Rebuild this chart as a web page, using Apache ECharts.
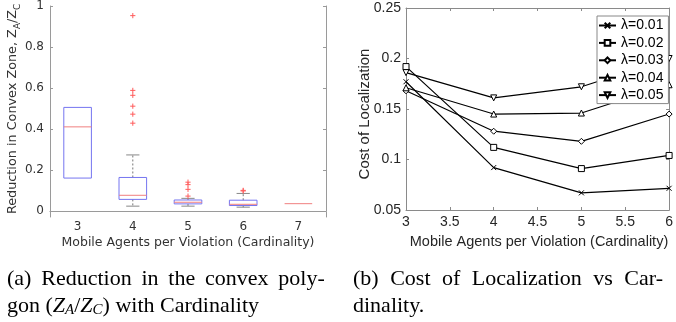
<!DOCTYPE html>
<html>
<head>
<meta charset="utf-8">
<script src="https://cdn.jsdelivr.net/npm/echarts@6/dist/echarts.min.js"></script>
<style>
  html, body { margin: 0; padding: 0; background: #fff; }
  #chart { width: 676px; height: 322px; }
</style>
</head>
<body>
<div id="chart"></div>
<script>
// (a) boxplot: reduction in convex zone per cardinality
const cardinality = ['3', '4', '5', '6', '7']
const boxLow = [0.16, 0.023, 0.023, 0.018, 0.035]
const boxQ1 = [0.16, 0.056, 0.034, 0.026, 0.035]
const boxMedian = [0.41, 0.076, 0.042, 0.032, 0.035]
const boxQ3 = [0.505, 0.163, 0.053, 0.052, 0.035]
const boxHigh = [0.505, 0.273, 0.061, 0.085, 0.035]
const outlierCategory = [1, 1, 1, 1, 1, 1, 2, 2, 2, 2, 3, 3]
const outlierValue = [0.953, 0.588, 0.564, 0.511, 0.472, 0.428, 0.14, 0.128, 0.105, 0.072, 0.1, 0.097]
const reductionTicks = [0, 0.2, 0.4, 0.6, 0.8, 1]

// (b) cost of localization vs cardinality
const agents = [3, 4, 5, 6]
const lambdaNames = ['λ=0.01', 'λ=0.02', 'λ=0.03', 'λ=0.04', 'λ=0.05']
const cost001 = [0.177, 0.092, 0.067, 0.0715]
const cost002 = [0.192, 0.112, 0.091, 0.104]
const cost003 = [0.168, 0.128, 0.118, 0.145]
const cost004 = [0.171, 0.145, 0.146, 0.174]
const cost005 = [0.186, 0.161, 0.172, 0.200]
const costSeries = [cost001, cost002, cost003, cost004, cost005]
const lambdaSymbols = [
  'path://M0,0L10,10M10,0L0,10',
  'rect',
  'diamond',
  'triangle',
  'path://M0,0L10,0L5,9Z'
]

const chart = echarts.init(document.getElementById('chart'))

const leftFont = 'DejaVu Sans'
const rightFont = 'Liberation Sans'
const leftAxisColor = '#9a9a9a'
const rightAxisColor = '#8a8a8a'

const boxData = cardinality.map((c, i) => [i, boxLow[i], boxQ1[i], boxMedian[i], boxQ3[i], boxHigh[i]])
const outlierData = outlierValue.map((v, i) => [outlierCategory[i], v])

function renderBox(params, api) {
  const i = api.value(0)
  const x = api.coord([i, 0])[0]
  const band = api.size([1, 0])[0]
  const hw = band * 0.25
  const cw = band * 0.12
  const yLo = api.coord([i, api.value(1)])[1]
  const yQ1 = api.coord([i, api.value(2)])[1]
  const yMed = api.coord([i, api.value(3)])[1]
  const yQ3 = api.coord([i, api.value(4)])[1]
  const yHi = api.coord([i, api.value(5)])[1]
  const children = []
  if (yHi < yQ3 - 0.5) {
    children.push({ type: 'line', shape: { x1: x, y1: yQ3, x2: x, y2: yHi }, style: { stroke: '#777', lineWidth: 1, lineDash: [2, 2] } })
    children.push({ type: 'line', shape: { x1: x - cw, y1: yHi, x2: x + cw, y2: yHi }, style: { stroke: '#888', lineWidth: 1 } })
  }
  if (yLo > yQ1 + 0.5) {
    children.push({ type: 'line', shape: { x1: x, y1: yQ1, x2: x, y2: yLo }, style: { stroke: '#777', lineWidth: 1, lineDash: [2, 2] } })
    children.push({ type: 'line', shape: { x1: x - cw, y1: yLo, x2: x + cw, y2: yLo }, style: { stroke: '#888', lineWidth: 1 } })
  }
  if (yQ1 - yQ3 > 0.5) {
    children.push({ type: 'rect', shape: { x: x - hw, y: yQ3, width: hw * 2, height: yQ1 - yQ3 }, style: { fill: 'none', stroke: '#7575f0', lineWidth: 1 } })
  }
  children.push({ type: 'line', shape: { x1: x - hw, y1: yMed, x2: x + hw, y2: yMed }, style: { stroke: '#f07f7f', lineWidth: 1 } })
  return { type: 'group', children }
}

function renderOutlier(params, api) {
  const p = api.coord([api.value(0), api.value(1)])
  const r = 2.6
  return {
    type: 'group',
    children: [
      { type: 'line', shape: { x1: p[0] - r, y1: p[1], x2: p[0] + r, y2: p[1] }, style: { stroke: '#ff5c5c', lineWidth: 1 } },
      { type: 'line', shape: { x1: p[0], y1: p[1] - r, x2: p[0], y2: p[1] + r }, style: { stroke: '#ff5c5c', lineWidth: 1 } }
    ]
  }
}

const option = {
  animation: false,
  backgroundColor: '#fff',
  grid: [
    { left: 50, right: 350, top: 4, bottom: 105 },
    { left: 406, right: 1, top: 8, bottom: 112 }
  ],
  xAxis: [
    {
      type: 'category',
      gridIndex: 0,
      data: cardinality,
      axisLine: { lineStyle: { color: '#e2e2e2' } },
      axisTick: { alignWithLabel: true, inside: true, length: 3, lineStyle: { color: leftAxisColor } },
      axisLabel: { color: '#333', fontFamily: leftFont, fontSize: 12, margin: 4 }
    },
    {
      type: 'category',
      gridIndex: 0,
      position: 'top',
      data: cardinality,
      axisLine: { lineStyle: { color: leftAxisColor } },
      axisTick: { alignWithLabel: true, inside: true, length: 3, lineStyle: { color: leftAxisColor } },
      axisLabel: { show: false }
    },
    {
      type: 'value',
      gridIndex: 1,
      min: 3,
      max: 6,
      interval: 0.5,
      splitLine: { show: false },
      axisLine: { lineStyle: { color: rightAxisColor } },
      axisTick: { inside: true, length: 3, lineStyle: { color: rightAxisColor } },
      axisLabel: { color: '#262626', fontFamily: rightFont, fontSize: 14, margin: 5 }
    },
    {
      type: 'value',
      gridIndex: 1,
      position: 'top',
      min: 3,
      max: 6,
      interval: 0.5,
      splitLine: { show: false },
      axisLine: { lineStyle: { color: rightAxisColor } },
      axisTick: { inside: true, length: 3, lineStyle: { color: rightAxisColor } },
      axisLabel: { show: false }
    }
  ],
  yAxis: [
    {
      type: 'value',
      gridIndex: 0,
      min: -0.03,
      max: 1,
      splitLine: { show: false },
      axisLine: { show: true, lineStyle: { color: leftAxisColor } },
      axisTick: { show: true, inside: true, length: 3, customValues: reductionTicks, lineStyle: { color: leftAxisColor } },
      axisLabel: { customValues: reductionTicks, color: '#333', fontFamily: leftFont, fontSize: 12, margin: 6 }
    },
    {
      type: 'value',
      gridIndex: 0,
      position: 'right',
      min: -0.03,
      max: 1,
      splitLine: { show: false },
      axisLine: { show: true, lineStyle: { color: leftAxisColor } },
      axisTick: { show: true, inside: true, length: 3, customValues: reductionTicks, lineStyle: { color: leftAxisColor } },
      axisLabel: { show: false }
    },
    {
      type: 'value',
      gridIndex: 1,
      min: 0.05,
      max: 0.25,
      interval: 0.05,
      splitLine: { show: false },
      axisLine: { show: true, lineStyle: { color: rightAxisColor } },
      axisTick: { show: true, inside: true, length: 3, lineStyle: { color: rightAxisColor } },
      axisLabel: { color: '#262626', fontFamily: rightFont, fontSize: 14, margin: 5 }
    },
    {
      type: 'value',
      gridIndex: 1,
      position: 'right',
      min: 0.05,
      max: 0.25,
      interval: 0.05,
      splitLine: { show: false },
      axisLine: { show: true, lineStyle: { color: rightAxisColor } },
      axisTick: { show: true, inside: true, length: 3, lineStyle: { color: rightAxisColor } },
      axisLabel: { show: false }
    }
  ],
  legend: {
    data: lambdaNames,
    orient: 'vertical',
    left: 597,
    top: 16,
    padding: [2, 5, 1, 1],
    itemGap: 2.4,
    itemWidth: 17,
    itemHeight: 7,
    backgroundColor: '#fff',
    borderColor: '#888',
    borderWidth: 1,
    borderRadius: 0,
    textStyle: { fontFamily: rightFont, fontSize: 14, color: '#000', lineHeight: 15 }
  },
  series: [
    {
      type: 'custom',
      name: 'box',
      xAxisIndex: 0,
      yAxisIndex: 0,
      renderItem: renderBox,
      encode: { x: 0, y: [1, 2, 3, 4, 5] },
      data: boxData,
      z: 3
    },
    {
      type: 'custom',
      name: 'outliers',
      xAxisIndex: 0,
      yAxisIndex: 0,
      renderItem: renderOutlier,
      encode: { x: 0, y: 1 },
      data: outlierData,
      z: 4
    },
    ...costSeries.map((vals, k) => ({
      type: 'line',
      name: lambdaNames[k],
      xAxisIndex: 2,
      yAxisIndex: 2,
      data: agents.map((a, i) => [a, vals[i]]),
      symbol: lambdaSymbols[k],
      symbolSize: k === 0 ? 5 : 6,
      showAllSymbol: true,
      lineStyle: { color: '#000', width: 1.2 },
      itemStyle: { color: k === 0 ? 'none' : '#fff', borderColor: '#000', borderWidth: 1 },
      z: 2
    }))
  ],
  graphic: [
    {
      type: 'text',
      x: 13,
      y: 109,
      rotation: Math.PI / 2,
      style: {
        text: 'Reduction in Convex Zone, Z{sub|A}/Z{sub|C}',
        fontFamily: leftFont,
        fontSize: 12.8,
        fill: '#333',
        align: 'center',
        verticalAlign: 'middle',
        rich: { sub: { fontFamily: leftFont, fontSize: 8.8, fill: '#333', padding: [9, 0, 0, 0] } }
      }
    },
    {
      type: 'text',
      x: 188,
      y: 243,
      style: { text: 'Mobile Agents per Violation (Cardinality)', fontFamily: leftFont, fontSize: 12.5, fill: '#333', align: 'center', verticalAlign: 'middle' }
    },
    {
      type: 'text',
      x: 365,
      y: 114,
      rotation: Math.PI / 2,
      style: { text: 'Cost of Localization', fontFamily: rightFont, fontSize: 15, fill: '#262626', align: 'center', verticalAlign: 'middle' }
    },
    {
      type: 'text',
      x: 539,
      y: 242,
      style: { text: 'Mobile Agents per Violation (Cardinality)', fontFamily: rightFont, fontSize: 14.5, fill: '#262626', align: 'center', verticalAlign: 'middle' }
    },
    {
      type: 'text',
      x: 7,
      y: 279,
      style: {
        text: '(a){s| }Reduction{s| }in{s| }the{s| }convex{s| }poly-',
        fontFamily: 'Liberation Serif',
        fontSize: 22,
        fill: '#000',
        verticalAlign: 'middle',
        rich: { s: { width: 9.8, fontSize: 22, fontFamily: 'Liberation Serif' } }
      }
    },
    {
      type: 'text',
      x: 7,
      y: 306,
      style: {
        text: 'gon ({i|Z}{sub|A}/{i|Z}{sub|C}) with Cardinality',
        fontFamily: 'Liberation Serif',
        fontSize: 22,
        fill: '#000',
        verticalAlign: 'middle',
        rich: {
          i: { fontFamily: 'Liberation Serif', fontStyle: 'italic', fontSize: 22 },
          sub: { fontFamily: 'Liberation Serif', fontStyle: 'italic', fontSize: 15, padding: [9, 0, 0, 0] }
        }
      }
    },
    {
      type: 'text',
      x: 353,
      y: 279,
      style: {
        text: '(b){s| }Cost{s| }of{s| }Localization{s| }vs{s| }Car-',
        fontFamily: 'Liberation Serif',
        fontSize: 22,
        fill: '#000',
        verticalAlign: 'middle',
        rich: { s: { width: 11.5, fontSize: 22, fontFamily: 'Liberation Serif' } }
      }
    },
    {
      type: 'text',
      x: 353,
      y: 306,
      style: { text: 'dinality.', fontFamily: 'Liberation Serif', fontSize: 22, fill: '#000', verticalAlign: 'middle' }
    }
  ]
}

chart.setOption(option)
</script>
</body>
</html>
